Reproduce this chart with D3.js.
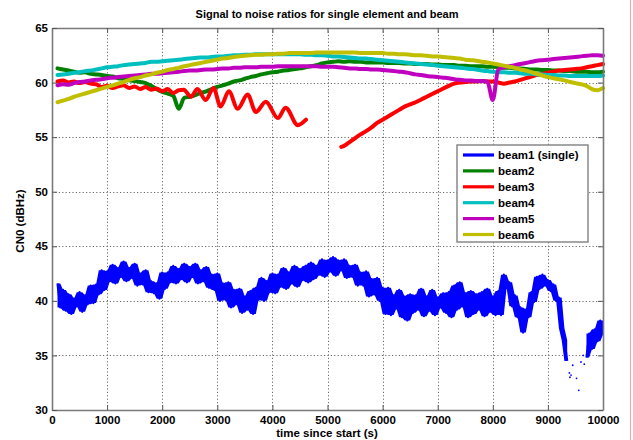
<!DOCTYPE html>
<html>
<head>
<meta charset="utf-8">
<script src="https://cdn.jsdelivr.net/npm/d3@7"></script>
<style>
  html, body { margin: 0; padding: 0; background: #fff; }
  svg { display: block; font-family: "Liberation Sans", Arial, Helvetica, sans-serif; }
</style>
</head>
<body>
<svg id="chart" width="633" height="440"></svg>
<script>
// ---- data -------------------------------------------------------------
const seriesNames = ["beam1 (single)", "beam2", "beam3", "beam4", "beam5", "beam6"];
const seriesColors = ["#0000ff", "#008000", "#ff0000", "#00bfbf", "#bf00bf", "#bfbf00"];

const xTicks = [0, 1000, 2000, 3000, 4000, 5000, 6000, 7000, 8000, 9000, 10000];
const yTicks = [30, 35, 40, 45, 50, 55, 60, 65];

// single element, sampled every 50 s from t = 100 s
const beam1Time = d3.range(100, 10001, 50);
const beam1Values = [
  41.6, 39.4, 41.0, 39.1, 40.6, 38.8, 40.2, 39.5, 40.8, 39.0, 40.5, 39.7, 41.4, 39.8, 41.5, 40.6, 42.8, 41.0, 42.7, 41.8,
  43.3, 41.6, 43.0, 42.2, 43.6, 41.8, 43.0, 42.1, 43.4, 41.4, 42.5, 41.5, 42.8, 40.8, 41.8, 40.7, 41.6, 40.2, 42.6, 41.1,
  42.6, 41.7, 43.2, 41.6, 42.9, 42.0, 43.4, 41.7, 43.1, 42.2, 43.4, 41.6, 42.8, 41.8, 43.1, 41.2, 42.4, 41.0, 42.5, 40.0,
  41.6, 40.1, 41.7, 39.4, 41.0, 39.7, 41.1, 38.9, 40.4, 39.2, 40.9, 38.8, 41.2, 40.1, 42.1, 40.0, 41.8, 40.8, 42.5, 40.7,
  42.4, 41.3, 43.0, 41.1, 42.6, 41.6, 43.2, 41.3, 42.9, 41.9, 43.2, 41.7, 43.5, 42.0, 43.2, 42.4, 43.8, 42.2, 43.7, 42.7,
  44.0, 42.3, 43.7, 42.8, 43.8, 42.1, 43.2, 42.2, 43.3, 41.4, 42.6, 41.4, 42.7, 40.4, 42.0, 40.6, 42.1, 40.0, 41.2, 38.8,
  41.2, 38.7, 40.5, 39.3, 41.0, 38.5, 40.4, 38.2, 40.6, 38.9, 40.5, 39.2, 41.1, 38.6, 40.4, 39.1, 41.0, 38.7, 40.3, 39.4,
  40.7, 38.9, 40.8, 38.5, 41.4, 39.2, 41.7, 39.5, 40.7, 38.5, 40.9, 38.8, 40.6, 39.2, 40.8, 38.6, 41.1, 39.0, 40.4, 38.7,
  40.9, 38.7, 42.4, 41.2, 41.7, 39.5, 40.5, 38.5, 39.4, 37.1, 39.2, 38.5, 40.8, 39.9, 42.2, 41.1, 42.4, 41.4, 41.9, 40.9,
  41.5, 40.0, 40.3, 37.5, 36.4, 34.5, null, null, null, null, null, null, 34.8, 37.0, 35.6, 37.4, 36.3, 38.2, 36.9
];
// isolated single-element samples during the fade
const beam1SparseTime = [9390, 9400, 9420, 9450, 9520, 9560, 9600, 9640, 9660];
const beam1SparseValues = [33.4, 33.0, 33.2, 34.1, 32.9, 31.8, 34.4, 35.0, 34.2];

// beams, sampled every 100 s from t = 100 s
const beamTime = d3.range(100, 10001, 100);

const beam2Values = [
  61.3, 61.2, 61.1, 61.0, 60.9, 60.95, 60.8, 60.75, 60.7, 60.6,
  60.55, 60.4, 60.35, 60.2, 60.15, 60.05, 59.95, 59.7, 59.4, 59.15,
  59.0, 58.8, 57.6, 58.6, 58.7, 58.85, 59.05, 59.2, 59.4, 59.6,
  59.75, 59.9, 60.1, 60.2, 60.35, 60.5, 60.6, 60.75, 60.85, 60.95,
  61.0, 61.1, 61.15, 61.25, 61.3, 61.4, 61.5, 61.6, 61.75, 61.85,
  61.9, 61.95, 61.9, 61.95, 61.9, 61.9, 61.85, 61.85, 61.85, 61.85,
  61.8, 61.8, 61.8, 61.75, 61.75, 61.7, 61.7, 61.7, 61.65, 61.65,
  61.6, 61.6, 61.6, 61.55, 61.55, 61.5, 61.5, 61.5, 61.45, 61.45,
  61.4, 61.35, 61.35, 61.3, 61.3, 61.25, 61.2, 61.2, 61.15, 61.15,
  61.1, 61.1, 61.05, 61.05, 61.0, 61.0, 61.0, 60.95, 60.95, 61.0
];

// beam3 has its own sample times (dropout between 4610 s and 5250 s)
const beam3Time = [
  100, 200, 300, 400, 500, 600, 700, 800, 900, 1000, 1100, 1200, 1300, 1400, 1500, 1600, 1700, 1800, 1900, 2000,
  2100, 2200, 2300, 2390, 2520, 2640, 2790, 2930, 3060, 3210, 3370, 3550, 3700, 3880, 4100, 4240, 4460, 4610,
  4900,
  5250, 5300, 5400, 5500, 5600, 5700, 5800, 5900, 6000, 6100, 6200, 6300, 6400, 6500, 6600, 6700, 6800, 6900, 7000,
  7100, 7200, 7300, 7400, 7500, 7600, 7700, 7800, 7900, 8000, 8100, 8200, 8300, 8400, 8500, 8600, 8700, 8800, 8900,
  9000, 9100, 9200, 9300, 9400, 9500, 9600, 9700, 9800, 9900, 10000
];
const beam3Values = [
  60.1, 60.2, 60.0, 60.1, 59.95, 60.05, 59.9, 59.85, 59.6, 59.7, 59.5, 59.65, 59.75, 59.5, 59.65, 59.4, 59.6, 59.35, 59.45, 59.2,
  59.4, 59.05, 59.3, 59.35, 58.7, 59.4, 58.4, 59.5, 57.8, 59.2, 57.6, 58.9, 57.3, 58.25, 56.75, 57.7, 56.1, 56.6,
  null,
  54.1, 54.2, 54.55, 54.9, 55.25, 55.55, 55.9, 56.3, 56.6, 56.9, 57.2, 57.5, 57.8, 58.0, 58.2, 58.45, 58.7, 58.95, 59.2,
  59.45, 59.7, 59.9, 60.0, 60.05, 60.1, 60.1, 60.15, 60.1, 60.1, 60.0, 59.9, 60.0, 60.1, 60.25, 60.4, 60.55, 60.7, 60.8,
  60.9, 61.0, 61.1, 61.15, 61.2, 61.25, 61.3, 61.4, 61.5, 61.6, 61.7
];

const beam4Values = [
  60.7, 60.75, 60.8, 60.9, 60.95, 61.05, 61.1, 61.2, 61.3, 61.4,
  61.45, 61.5, 61.6, 61.65, 61.7, 61.75, 61.8, 61.9, 61.9, 61.95,
  62.0, 62.05, 62.1, 62.15, 62.2, 62.25, 62.3, 62.3, 62.35, 62.4,
  62.4, 62.45, 62.5, 62.5, 62.55, 62.55, 62.6, 62.6, 62.6, 62.6,
  62.6, 62.6, 62.6, 62.6, 62.6, 62.55, 62.55, 62.5, 62.5, 62.45,
  62.4, 62.4, 62.35, 62.3, 62.25, 62.2, 62.2, 62.15, 62.1, 62.05,
  62.0, 61.95, 61.9, 61.85, 61.8, 61.75, 61.7, 61.65, 61.6, 61.55,
  61.5, 61.45, 61.4, 61.35, 61.3, 61.25, 61.2, 61.1, 61.05, 61.0,
  60.95, 60.95, 60.9, 60.9, 60.85, 60.8, 60.8, 60.75, 60.75, 60.7,
  60.7, 60.65, 60.65, 60.6, 60.6, 60.6, 60.6, 60.6, 60.6, 60.65
];

const beam5Values = [
  59.75, 59.85, 59.8, 59.95, 60.05, 60.1, 60.2, 60.25, 60.3, 60.4,
  60.45, 60.5, 60.55, 60.6, 60.65, 60.7, 60.75, 60.8, 60.8, 60.85,
  60.9, 60.95, 61.0, 61.05, 61.1, 61.1, 61.15, 61.2, 61.2, 61.25,
  61.3, 61.3, 61.35, 61.35, 61.4, 61.4, 61.4, 61.45, 61.45, 61.45,
  61.5, 61.5, 61.5, 61.5, 61.5, 61.5, 61.5, 61.5, 61.45, 61.45,
  61.45, 61.4, 61.35, 61.3, 61.3, 61.25, 61.25, 61.2, 61.2, 61.15,
  61.1, 61.05, 61.0, 60.95, 60.85, 60.75, 60.7, 60.6, 60.55, 60.5,
  60.45, 60.4, 60.3, 60.25, 60.2, 60.2, 60.15, 60.15, 60.1, 58.4,
  61.2, 61.4, 61.5, 61.6, 61.7, 61.8, 61.9, 62.0, 62.05, 62.1,
  62.15, 62.2, 62.25, 62.3, 62.35, 62.4, 62.45, 62.5, 62.5, 62.45
];

const beam6Values = [
  58.2, 58.35, 58.5, 58.7, 58.85, 59.0, 59.15, 59.3, 59.45, 59.6,
  59.75, 59.9, 60.05, 60.25, 60.4, 60.5, 60.65, 60.75, 60.9, 61.0,
  61.15, 61.25, 61.35, 61.5, 61.6, 61.7, 61.8, 61.9, 62.0, 62.1,
  62.2, 62.25, 62.35, 62.4, 62.45, 62.5, 62.55, 62.55, 62.6, 62.6,
  62.65, 62.65, 62.7, 62.7, 62.7, 62.7, 62.7, 62.75, 62.75, 62.75,
  62.75, 62.75, 62.75, 62.75, 62.75, 62.7, 62.7, 62.7, 62.7, 62.7,
  62.65, 62.65, 62.6, 62.6, 62.55, 62.5, 62.5, 62.45, 62.4, 62.4,
  62.35, 62.3, 62.25, 62.2, 62.1, 62.05, 62.0, 61.9, 61.85, 61.75,
  61.65, 61.55, 61.45, 61.35, 61.2, 61.1, 60.95, 60.8, 60.65, 60.5,
  60.4, 60.3, 60.2, 60.05, 59.95, 59.85, 59.7, 59.4, 59.3, 59.5
];

// ---- layout -----------------------------------------------------------
const svg = d3.select("#chart");
const x = d3.scaleLinear().domain([0, 10000]).range([52, 603]);
const y = d3.scaleLinear().domain([30, 65]).range([410, 28]);

const frameColor = "#7a7a7a";
const gridColor = "#6a6a6a";

svg.append("rect")
  .attr("x", x(0)).attr("y", y(65))
  .attr("width", x(10000) - x(0)).attr("height", y(30) - y(65))
  .attr("fill", "#fff");

// dotted grid
const grid = svg.append("g").attr("stroke", gridColor).attr("stroke-width", 1)
  .attr("stroke-dasharray", "1.2,2.2");
grid.selectAll("line.vx").data(xTicks.slice(1, -1)).join("line")
  .attr("x1", d => Math.round(x(d)) + 0.5).attr("x2", d => Math.round(x(d)) + 0.5)
  .attr("y1", y(65)).attr("y2", y(30));
grid.selectAll("line.hy").data(yTicks.slice(1, -1)).join("line")
  .attr("x1", x(0)).attr("x2", x(10000))
  .attr("y1", d => Math.round(y(d)) + 0.5).attr("y2", d => Math.round(y(d)) + 0.5);

// ---- series -----------------------------------------------------------
const plot = svg.append("g");

// beam1: noisy trace — fill the spread between neighbouring samples, then stroke the trace
const beam1Points = beam1Time.map((t, i) => [t, beam1Values[i]]);
const neighbours = i => [beam1Values[i - 1], beam1Values[i], beam1Values[i + 1]].filter(v => v != null);
const beam1Band = beam1Points.map((d, i) => d[1] == null ? { t: d[0], lo: null, hi: null }
  : { t: d[0], lo: d3.min(neighbours(i)), hi: d3.max(neighbours(i)) });
plot.append("path")
  .attr("d", d3.area()
    .defined(d => d.lo != null)
    .x(d => x(d.t)).y0(d => y(d.lo)).y1(d => y(d.hi))(beam1Band))
  .attr("fill", seriesColors[0]);
plot.append("path")
  .attr("d", d3.line().defined(d => d[1] != null).x(d => x(d[0])).y(d => y(d[1]))(beam1Points))
  .attr("fill", "none").attr("stroke", seriesColors[0])
  .attr("stroke-width", 2.2).attr("stroke-linejoin", "round");
plot.selectAll("circle.sparse")
  .data(beam1SparseTime.map((t, i) => [t, beam1SparseValues[i]]))
  .join("circle")
  .attr("cx", d => x(d[0])).attr("cy", d => y(d[1]))
  .attr("r", 0.9).attr("fill", seriesColors[0]);

const smoothLine = d3.line()
  .defined(d => d[1] != null)
  .curve(d3.curveMonotoneX)
  .x(d => x(d[0]))
  .y(d => y(d[1]));

const beamSeries = [
  { time: beamTime, values: beam2Values, color: seriesColors[1] },
  { time: beam3Time, values: beam3Values, color: seriesColors[2] },
  { time: beamTime, values: beam4Values, color: seriesColors[3] },
  { time: beamTime, values: beam5Values, color: seriesColors[4] },
  { time: beamTime, values: beam6Values, color: seriesColors[5] }
];
beamSeries.forEach(s => {
  plot.append("path")
    .attr("d", smoothLine(s.time.map((t, i) => [t, s.values[i]])))
    .attr("fill", "none").attr("stroke", s.color)
    .attr("stroke-width", 4).attr("stroke-linejoin", "round").attr("stroke-linecap", "round");
});

// ---- axes -------------------------------------------------------------
const fmt = d3.format("d");
const axisBottom = svg.append("g").attr("transform", `translate(0,${y(30)})`)
  .call(d3.axisBottom(x).tickValues(xTicks).tickFormat(fmt).tickSizeInner(-5).tickSizeOuter(0).tickPadding(6));
const axisTop = svg.append("g").attr("transform", `translate(0,${y(65)})`)
  .call(d3.axisTop(x).tickValues(xTicks).tickFormat("").tickSizeInner(-5).tickSizeOuter(0));
const axisLeft = svg.append("g").attr("transform", `translate(${x(0)},0)`)
  .call(d3.axisLeft(y).tickValues(yTicks).tickFormat(fmt).tickSizeInner(-5).tickSizeOuter(0).tickPadding(4));
const axisRight = svg.append("g").attr("transform", `translate(${x(10000)},0)`)
  .call(d3.axisRight(y).tickValues(yTicks).tickFormat("").tickSizeInner(-5).tickSizeOuter(0));

[axisBottom, axisTop, axisLeft, axisRight].forEach(g => {
  g.select(".domain").attr("stroke", frameColor).attr("stroke-width", 1.6);
  g.selectAll(".tick line").attr("stroke", "#555");
  g.selectAll(".tick text").attr("fill", "#000")
    .attr("font-size", 11.5).attr("font-weight", "bold")
    .attr("font-family", "\"Liberation Sans\", Arial, Helvetica, sans-serif");
});

// ---- titles -----------------------------------------------------------
svg.append("text")
  .attr("x", 327).attr("y", 18)
  .attr("text-anchor", "middle")
  .attr("font-size", 11).attr("font-weight", "bold")
  .text("Signal to noise ratios for single element and beam");

svg.append("text")
  .attr("x", 327).attr("y", 437)
  .attr("text-anchor", "middle")
  .attr("font-size", 11.5).attr("font-weight", "bold")
  .text("time since start (s)");

svg.append("text")
  .attr("transform", `translate(24,${(y(30) + y(65)) / 2 + 2}) rotate(-90)`)
  .attr("text-anchor", "middle")
  .attr("font-size", 11.5).attr("font-weight", "bold")
  .text("CN0 (dBHz)");

// ---- legend -----------------------------------------------------------
const legend = svg.append("g").attr("transform", "translate(457,145)");
legend.append("rect")
  .attr("x", 0).attr("y", 0).attr("width", 131).attr("height", 97)
  .attr("fill", "#fff").attr("stroke", "#808080").attr("stroke-width", 1.4);
const items = legend.selectAll("g.item").data(seriesNames).join("g")
  .attr("transform", (d, i) => `translate(0,${10 + i * 15.9})`);
items.append("line")
  .attr("x1", 6).attr("x2", 37).attr("y1", 0).attr("y2", 0)
  .attr("stroke", (d, i) => seriesColors[i]).attr("stroke-width", 3.2);
items.append("text")
  .attr("x", 41).attr("y", 0).attr("dy", "0.36em")
  .attr("font-size", 11.5).attr("font-weight", "bold").attr("fill", "#000")
  .text(d => d);

// thin rule at the right edge of the figure
svg.append("line")
  .attr("x1", 630.5).attr("x2", 630.5).attr("y1", 0).attr("y2", 440)
  .attr("stroke", "#f3a5a5").attr("stroke-width", 1);
</script>
</body>
</html>
